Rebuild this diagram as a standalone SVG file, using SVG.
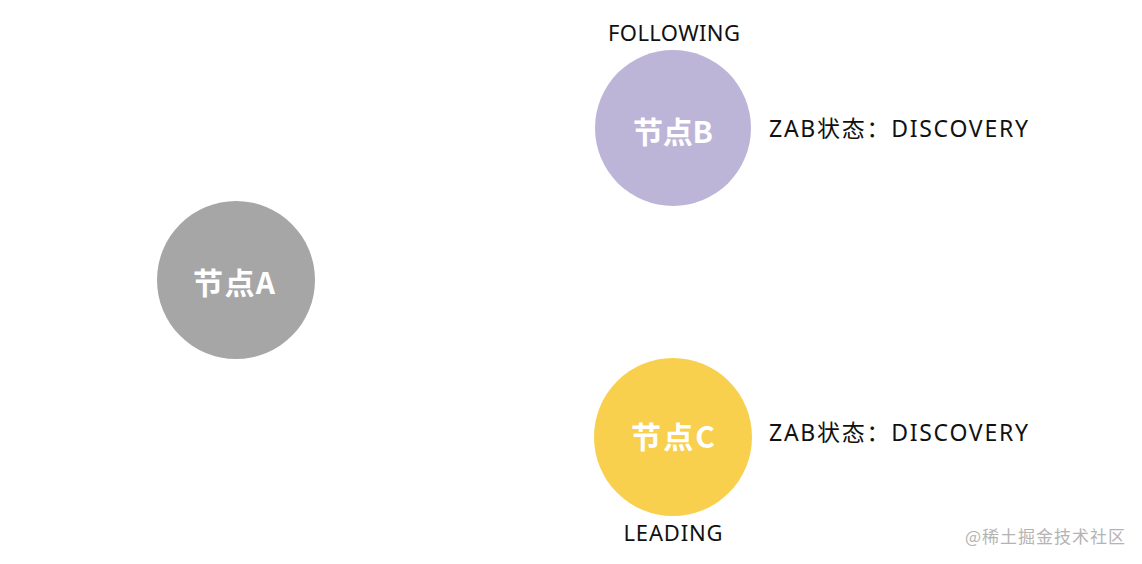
<svg xmlns="http://www.w3.org/2000/svg" width="1142" height="564" viewBox="0 0 1142 564">
<style>
.nl{font-family:"Noto Sans CJK SC","Noto Sans",sans-serif;font-weight:bold;font-size:30px;fill:#ffffff;text-anchor:middle;dominant-baseline:central}
.lbl{font-family:"Noto Sans","Noto Sans CJK SC",sans-serif;font-size:22px;fill:#111111;text-anchor:middle}
.st{font-family:"Noto Sans","Noto Sans CJK SC",sans-serif;font-size:23px;fill:#111111}
.wm{font-family:"Noto Sans CJK SC",sans-serif;font-size:17px;fill:#b4b4b4}
</style>
<rect width="1142" height="564" fill="#ffffff"/>
<g id="nodeA">
<circle cx="236" cy="280" r="79" fill="#a6a6a6"/>
<text class="nl" x="234" y="281" textLength="82">节点A</text>
</g>
<g id="nodeB">
<circle cx="673" cy="128" r="78" fill="#bdb5d8"/>
<text class="nl" x="673" y="130" textLength="80">节点B</text>
<text class="lbl" x="674" y="41" textLength="132">FOLLOWING</text>
<text class="st" x="769" y="137" textLength="259">ZAB状态：DISCOVERY</text>
</g>
<g id="nodeC">
<circle cx="673" cy="437" r="79" fill="#f8d04e"/>
<text class="nl" x="673" y="435" textLength="84">节点C</text>
<text class="lbl" x="673" y="541" textLength="99">LEADING</text>
<text class="st" x="769" y="441" textLength="259">ZAB状态：DISCOVERY</text>
</g>
<g id="connectors"></g>
<text class="wm" x="965" y="543" textLength="160">@稀土掘金技术社区</text>
</svg>
